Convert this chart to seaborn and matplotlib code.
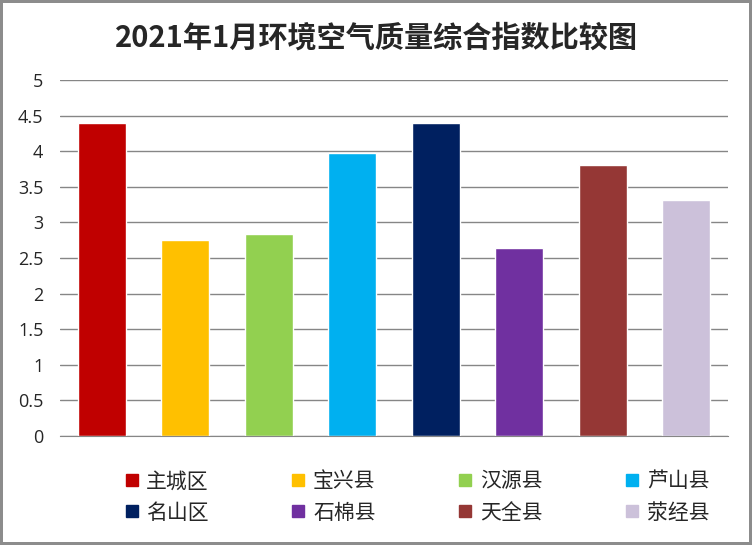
import numpy as np
import pandas as pd
import seaborn as sns
import matplotlib.pyplot as plt
from matplotlib.lines import Line2D

# data
regions = ['主城区', '宝兴县', '汉源县', '芦山县', '名山区', '石棉县', '天全县', '荥经县']
index_values = [4.40, 2.75, 2.84, 3.97, 4.40, 2.64, 3.81, 3.31]
colors = ['#C00000', '#FFC000', '#92D050', '#00B0F0', '#002060', '#7030A0', '#953735', '#CCC1DA']
y_ticks = [0, 0.5, 1, 1.5, 2, 2.5, 3, 3.5, 4, 4.5, 5]

sns.set_style('white')
plt.rcParams['font.family'] = ['Noto Sans CJK SC', 'DejaVu Sans']

df = pd.DataFrame({'region': regions, 'value': index_values})

fig = plt.figure(figsize=(7.52, 5.45), dpi=100)
fig.patch.set_edgecolor('#8C8C8C')
fig.patch.set_linewidth(3)
ax = fig.add_axes([60/752, 1-436/545, 668/752, 356/545])

sns.barplot(data=df, x='region', y='value', hue='region', palette=colors,
            width=0.575, legend=False, saturation=1, ax=ax)

ax.set_ylim(0, 5)
ax.set_xlim(-0.5, 7.5)
ax.set_yticks(y_ticks)
ax.set_yticklabels([('%g' % t) for t in y_ticks], fontsize=13,
                   family=['Open Sans', 'DejaVu Sans'])
ax.set_xticks([])
ax.set_xlabel('')
ax.set_ylabel('')
ax.tick_params(axis='y', length=0, pad=12)
ax.yaxis.grid(True, color='#868686', linewidth=1)
ax.set_axisbelow(True)
for side in ['left', 'right', 'top']:
    ax.spines[side].set_visible(False)
ax.spines['bottom'].set_color('#868686')

fig.text(0.5, 1-38/545, '2021年1月环境空气质量综合指数比较图', ha='center', va='center',
         fontsize=21, fontweight='bold')

handles = [Line2D([], [], marker='s', linestyle='', markersize=8, color=c) for c in colors]
# matplotlib fills legend columns first, so reorder for row-major layout
order = [0, 4, 1, 5, 2, 6, 3, 7]
fig.legend([handles[i] for i in order], [regions[i] for i in order], ncol=4,
           loc='center', bbox_to_anchor=(0.555, 1-497/545), frameon=False,
           fontsize=15, handlelength=0.6, handletextpad=0.4, columnspacing=4.0,
           labelspacing=0.45)

fig.savefig('out.png', dpi=100)
